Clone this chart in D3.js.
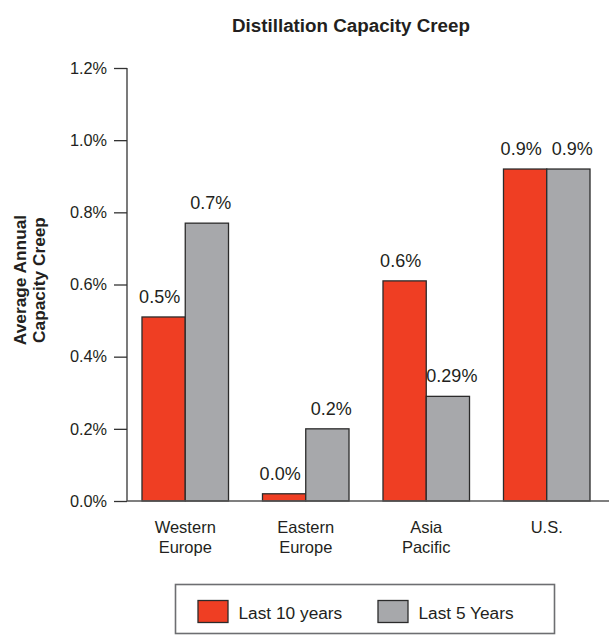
<!DOCTYPE html>
<html>
<head>
<meta charset="utf-8">
<script src="https://cdn.jsdelivr.net/npm/d3@7"></script>
<style>
  html, body { margin: 0; padding: 0; background: #fff; }
  svg { display: block; }
  text { fill: #231f20; }
</style>
</head>
<body>
<svg id="chart" width="613" height="635"></svg>
<script>
// Regions and their average annual capacity creep (%)
const categories = ["Western Europe", "Eastern Europe", "Asia Pacific", "U.S."];
const categoryLines = [["Western", "Europe"], ["Eastern", "Europe"], ["Asia", "Pacific"], ["U.S."]];
const seriesNames = ["Last 10 years", "Last 5 Years"];
const last10Years = [0.51, 0.02, 0.61, 0.92];
const last5Years = [0.77, 0.20, 0.29, 0.92];
const last10Labels = ["0.5%", "0.0%", "0.6%", "0.9%"];
const last5Labels = ["0.7%", "0.2%", "0.29%", "0.9%"];
const yTicks = [0, 0.2, 0.4, 0.6, 0.8, 1.0, 1.2];

const colors = ["#ef3e23", "#a7a8ab"];
const sans = "'Liberation Sans', Arial, sans-serif";

const svg = d3.select("#chart");

const y = d3.scaleLinear().domain([0, 1.2]).range([501, 68]);
const x0 = d3.scaleBand().domain(categories).range([125, 607])
  .paddingInner(0.282).paddingOuter(0.141);
const x1 = d3.scaleBand().domain(seriesNames).range([0, x0.bandwidth()]);

// Title
svg.append("text")
  .attr("x", 351).attr("y", 32)
  .attr("text-anchor", "middle")
  .style("font-family", sans).style("font-weight", "bold").style("font-size", "18.8px")
  .text("Distillation Capacity Creep");

// Y-axis title (two lines, rotated)
const yTitle = svg.append("text")
  .attr("transform", "translate(0,280) rotate(-90)")
  .attr("text-anchor", "middle")
  .style("font-family", sans).style("font-weight", "bold").style("font-size", "17.3px");
yTitle.append("tspan").attr("x", 0).attr("y", 26).text("Average Annual");
yTitle.append("tspan").attr("x", 0).attr("y", 45).text("Capacity Creep");

// Y axis
const yAxis = svg.append("g")
  .attr("transform", "translate(127,0)")
  .call(d3.axisLeft(y).tickValues(yTicks).tickSize(13).tickPadding(7)
    .tickFormat(d => d.toFixed(1) + "%"));
yAxis.select(".domain").remove();
yAxis.selectAll(".tick line").attr("stroke", "#333").attr("stroke-width", 1.3);
yAxis.selectAll(".tick text")
  .style("font-family", sans).style("font-size", "16.3px").attr("fill", "#231f20");
svg.append("line")
  .attr("x1", 127).attr("x2", 127).attr("y1", y(1.2)).attr("y2", y(0))
  .attr("stroke", "#333").attr("stroke-width", 1.3);

// Bars
const rows = categories.map((c, i) => ({
  cat: c,
  vals: [
    { s: seriesNames[0], v: last10Years[i], label: last10Labels[i], color: colors[0], dx: -4 },
    { s: seriesNames[1], v: last5Years[i], label: last5Labels[i], color: colors[1], dx: 4 }
  ]
}));

const groups = svg.append("g").selectAll("g").data(rows).join("g")
  .attr("transform", d => `translate(${x0(d.cat)},0)`);

groups.selectAll("rect").data(d => d.vals).join("rect")
  .attr("x", d => x1(d.s))
  .attr("y", d => y(d.v))
  .attr("width", x1.bandwidth())
  .attr("height", d => y(0) - y(d.v))
  .attr("fill", d => d.color)
  .attr("stroke", "#2b2b2b").attr("stroke-width", 1.3);

// Value labels, nudged apart so neighbouring labels don't touch
groups.selectAll("text.val").data(d => d.vals).join("text")
  .attr("class", "val")
  .attr("x", d => x1(d.s) + x1.bandwidth() / 2 + d.dx)
  .attr("y", d => y(d.v) - 14)
  .attr("text-anchor", "middle")
  .style("font-family", sans).style("font-size", "18px")
  .text(d => d.label);

// X axis baseline
svg.append("line")
  .attr("x1", 127).attr("x2", 609).attr("y1", y(0)).attr("y2", y(0))
  .attr("stroke", "#555").attr("stroke-width", 1.5);

// Category labels
const catText = svg.append("g").selectAll("text").data(categories).join("text")
  .attr("text-anchor", "middle")
  .style("font-family", sans).style("font-size", "16.5px");
catText.each(function(d, i) {
  const cx = x0(d) + x0.bandwidth() / 2;
  d3.select(this).selectAll("tspan").data(categoryLines[i]).join("tspan")
    .attr("x", cx)
    .attr("y", (t, j) => 533 + j * 19.5)
    .text(t => t);
});

// Legend
const legend = svg.append("g");
legend.append("rect")
  .attr("x", 175.5).attr("y", 584.5).attr("width", 379).attr("height", 49)
  .attr("fill", "none").attr("stroke", "#6d6e71").attr("stroke-width", 1.6);
const legendX = [198, 378];
seriesNames.forEach((name, i) => {
  legend.append("rect")
    .attr("x", legendX[i]).attr("y", 600.5).attr("width", 30).attr("height", 22)
    .attr("fill", colors[i]).attr("stroke", "#2b2b2b").attr("stroke-width", 1.3);
  legend.append("text")
    .attr("x", legendX[i] + 40.5).attr("y", 619)
    .style("font-family", sans).style("font-size", "17.3px")
    .text(name);
});
</script>
</body>
</html>
